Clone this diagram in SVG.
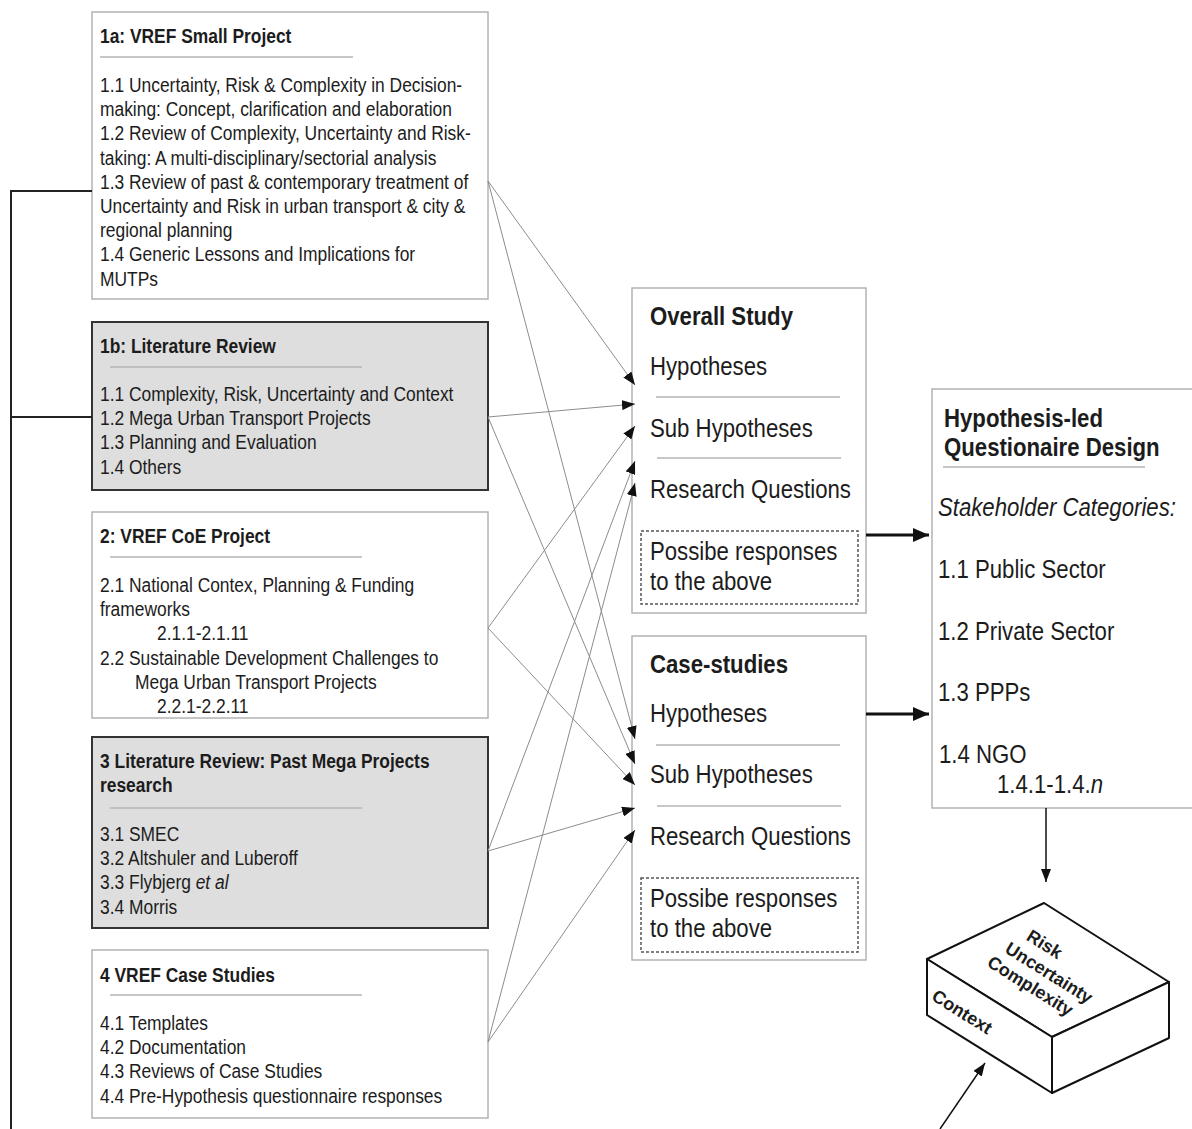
<svg xmlns="http://www.w3.org/2000/svg" width="1192" height="1129" viewBox="0 0 1192 1129">
<style>
text { font-family: "Liberation Sans", Arial, sans-serif; fill: #1c1c1c; }
.s { font-size: 20px; }
.sb { font-size: 20px; font-weight: bold; }
.l { font-size: 25.5px; }
.lb { font-size: 25.5px; font-weight: bold; }
.cb { font-size: 18px; font-weight: bold; text-anchor: middle; }
.wbox { fill: #ffffff; stroke: #b3b3b3; stroke-width: 1.5; }
.gbox { fill: #dedede; stroke: #333333; stroke-width: 2; }
.sep { stroke: #b5b5b5; stroke-width: 1.5; fill: none; }
.dot { fill: none; stroke: #555555; stroke-width: 1.5; stroke-dasharray: 3 2; }
.conn { stroke: #8c8c8c; stroke-width: 1; fill: none; marker-end: url(#ah); }
.thick { stroke: #111111; stroke-width: 3; fill: none; marker-end: url(#ahb); }
.blk { stroke: #111111; stroke-width: 1.5; fill: none; marker-end: url(#ah); }
.trunk { stroke: #222222; stroke-width: 2; fill: none; }
.cube { fill: #ffffff; stroke: #111111; stroke-width: 2; stroke-linejoin: round; }
</style>
<defs>
<marker id="ah" markerUnits="userSpaceOnUse" markerWidth="13" markerHeight="10" refX="13" refY="5" orient="auto">
<path d="M0,0 L13,5 L0,10 z" fill="#111111"/>
</marker>
<marker id="ahb" markerUnits="userSpaceOnUse" markerWidth="16" markerHeight="14" refX="16" refY="7" orient="auto">
<path d="M0,0 L16,7 L0,14 z" fill="#111111"/>
</marker>
</defs>
<rect width="1192" height="1129" fill="#ffffff"/>

<g id="node-1a">
<rect class="wbox" x="92" y="12" width="396" height="287"/>
<text class="sb" transform="translate(100 43) scale(0.87 1)">1a: VREF Small Project</text>
<line class="sep" x1="100" y1="57" x2="353" y2="57"/>
<text class="s" transform="translate(100 92) scale(0.87 1)">1.1 Uncertainty, Risk &amp; Complexity in Decision-</text>
<text class="s" transform="translate(100 116.2) scale(0.87 1)">making: Concept, clarification and elaboration</text>
<text class="s" transform="translate(100 140.4) scale(0.87 1)">1.2 Review of Complexity, Uncertainty and Risk-</text>
<text class="s" transform="translate(100 164.6) scale(0.87 1)">taking: A multi-disciplinary/sectorial analysis</text>
<text class="s" transform="translate(100 188.8) scale(0.87 1)">1.3 Review of past &amp; contemporary treatment of</text>
<text class="s" transform="translate(100 213) scale(0.87 1)">Uncertainty and Risk in urban transport &amp; city &amp;</text>
<text class="s" transform="translate(100 237.2) scale(0.87 1)">regional planning</text>
<text class="s" transform="translate(100 261.4) scale(0.87 1)">1.4 Generic Lessons and Implications for</text>
<text class="s" transform="translate(100 285.6) scale(0.87 1)">MUTPs</text>
</g>

<g id="node-1b">
<rect class="gbox" x="92" y="322" width="396" height="168"/>
<text class="sb" transform="translate(100 353) scale(0.87 1)">1b: Literature Review</text>
<line class="sep" x1="110" y1="367" x2="362" y2="367"/>
<text class="s" transform="translate(100 401) scale(0.87 1)">1.1 Complexity, Risk, Uncertainty and Context</text>
<text class="s" transform="translate(100 425.2) scale(0.87 1)">1.2 Mega Urban Transport Projects</text>
<text class="s" transform="translate(100 449.4) scale(0.87 1)">1.3 Planning and Evaluation</text>
<text class="s" transform="translate(100 473.6) scale(0.87 1)">1.4 Others</text>
</g>

<g id="node-2">
<rect class="wbox" x="92" y="512" width="396" height="206"/>
<text class="sb" transform="translate(100 543) scale(0.87 1)">2: VREF CoE Project</text>
<line class="sep" x1="110" y1="557" x2="362" y2="557"/>
<text class="s" transform="translate(100 592) scale(0.87 1)">2.1 National Contex, Planning &amp; Funding</text>
<text class="s" transform="translate(100 616.2) scale(0.87 1)">frameworks</text>
<text class="s" transform="translate(157 640.4) scale(0.87 1)">2.1.1-2.1.11</text>
<text class="s" transform="translate(100 664.6) scale(0.87 1)">2.2 Sustainable Development Challenges to</text>
<text class="s" transform="translate(135 688.8) scale(0.87 1)">Mega Urban Transport Projects</text>
<text class="s" transform="translate(157 713) scale(0.87 1)">2.2.1-2.2.11</text>
</g>

<g id="node-3">
<rect class="gbox" x="92" y="737" width="396" height="191"/>
<text class="sb" transform="translate(100 768) scale(0.87 1)">3 Literature Review: Past Mega Projects</text>
<text class="sb" transform="translate(100 791.5) scale(0.87 1)">research</text>
<line class="sep" x1="110" y1="808" x2="362" y2="808"/>
<text class="s" transform="translate(100 841) scale(0.87 1)">3.1 SMEC</text>
<text class="s" transform="translate(100 865.2) scale(0.87 1)">3.2 Altshuler and Luberoff</text>
<text class="s" transform="translate(100 889.4) scale(0.87 1)">3.3 Flybjerg <tspan font-style="italic">et al</tspan></text>
<text class="s" transform="translate(100 913.6) scale(0.87 1)">3.4 Morris</text>
</g>

<g id="node-4">
<rect class="wbox" x="92" y="950" width="396" height="168"/>
<text class="sb" transform="translate(100 981.5) scale(0.87 1)">4 VREF Case Studies</text>
<line class="sep" x1="110" y1="995" x2="362" y2="995"/>
<text class="s" transform="translate(100 1030) scale(0.87 1)">4.1 Templates</text>
<text class="s" transform="translate(100 1054.2) scale(0.87 1)">4.2 Documentation</text>
<text class="s" transform="translate(100 1078.4) scale(0.87 1)">4.3 Reviews of Case Studies</text>
<text class="s" transform="translate(100 1102.6) scale(0.87 1)">4.4 Pre-Hypothesis questionnaire responses</text>
</g>

<g id="node-overall-study">
<rect class="wbox" x="632" y="288" width="234" height="325"/>
<text class="lb" transform="translate(650 325) scale(0.87 1)">Overall Study</text>
<text class="l" transform="translate(650 375) scale(0.87 1)">Hypotheses</text>
<line class="sep" x1="656" y1="397" x2="840" y2="397"/>
<text class="l" transform="translate(650 436.5) scale(0.87 1)">Sub Hypotheses</text>
<line class="sep" x1="657" y1="458" x2="841" y2="458"/>
<text class="l" transform="translate(650 498) scale(0.87 1)">Research Questions</text>
<rect class="dot" x="641" y="531" width="217" height="73"/>
<text class="l" transform="translate(650 560) scale(0.87 1)">Possibe responses</text>
<text class="l" transform="translate(650 589.5) scale(0.87 1)">to the above</text>
</g>

<g id="node-case-studies">
<rect class="wbox" x="632" y="636" width="234" height="324"/>
<text class="lb" transform="translate(650 673) scale(0.87 1)">Case-studies</text>
<text class="l" transform="translate(650 721.5) scale(0.87 1)">Hypotheses</text>
<line class="sep" x1="656" y1="745" x2="840" y2="745"/>
<text class="l" transform="translate(650 783) scale(0.87 1)">Sub Hypotheses</text>
<line class="sep" x1="657" y1="806" x2="841" y2="806"/>
<text class="l" transform="translate(650 845) scale(0.87 1)">Research Questions</text>
<rect class="dot" x="641" y="878" width="217" height="74"/>
<text class="l" transform="translate(650 906.5) scale(0.87 1)">Possibe responses</text>
<text class="l" transform="translate(650 937) scale(0.87 1)">to the above</text>
</g>

<g id="node-questionnaire">
<rect class="wbox" x="932" y="389" width="280" height="419"/>
<text class="lb" transform="translate(944 427) scale(0.87 1)">Hypothesis-led</text>
<text class="lb" transform="translate(944 456) scale(0.87 1)">Questionaire Design</text>
<line class="sep" x1="943" y1="467" x2="1145" y2="467"/>
<text class="l" font-style="italic" transform="translate(938 516) scale(0.87 1)">Stakeholder Categories:</text>
<text class="l" transform="translate(938 578) scale(0.87 1)">1.1 Public Sector</text>
<text class="l" transform="translate(938 640) scale(0.87 1)">1.2 Private Sector</text>
<text class="l" transform="translate(938 701) scale(0.87 1)">1.3 PPPs</text>
<text class="l" transform="translate(939 763) scale(0.87 1)">1.4 NGO</text>
<text class="l" transform="translate(997 793) scale(0.87 1)">1.4.1-1.4.<tspan font-style="italic">n</tspan></text>
</g>

<g id="node-cube">
<polygon class="cube" points="1044,903 1169,982 1052,1037 927,959"/>
<polygon class="cube" points="927,959 1052,1037 1052,1093 927,1015"/>
<polygon class="cube" points="1052,1037 1169,982 1169,1038 1052,1093"/>
<g transform="translate(1049 973) rotate(32)">
<text class="cb" x="-19" y="-16">Risk</text>
<text class="cb" x="0" y="6">Uncertainty</text>
<text class="cb" x="-9" y="27">Complexity</text>
</g>
<text class="cb" transform="translate(962 1012) rotate(32)" y="6">Context</text>
</g>

<g id="connectors">
<path class="trunk" d="M92,191 H11 V1129 M11,417 H92"/>
<line class="conn" x1="488" y1="181" x2="635" y2="385"/>
<line class="conn" x1="488" y1="181" x2="635" y2="739"/>
<line class="conn" x1="488" y1="417" x2="635" y2="404"/>
<line class="conn" x1="488" y1="417" x2="635" y2="764"/>
<line class="conn" x1="488" y1="628" x2="635" y2="426"/>
<line class="conn" x1="488" y1="628" x2="635" y2="785"/>
<line class="conn" x1="488" y1="851" x2="635" y2="461"/>
<line class="conn" x1="488" y1="851" x2="635" y2="808"/>
<line class="conn" x1="488" y1="1042" x2="635" y2="483"/>
<line class="conn" x1="488" y1="1042" x2="635" y2="830"/>
<line class="thick" x1="866" y1="535" x2="929" y2="535"/>
<line class="thick" x1="866" y1="714" x2="929" y2="714"/>
<line class="blk" x1="1046" y1="808" x2="1046" y2="882"/>
<line class="blk" x1="940" y1="1129" x2="985" y2="1063"/>
</g>
</svg>
